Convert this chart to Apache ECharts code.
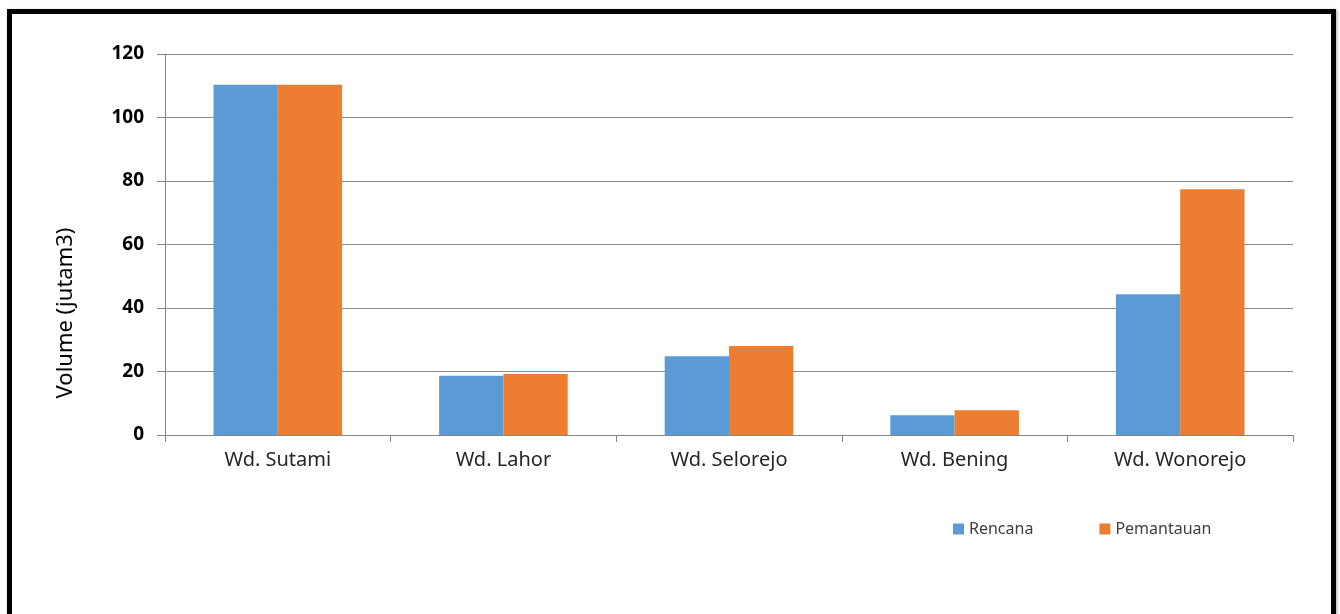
<!DOCTYPE html>
<html>
<head>
<meta charset="utf-8">
<script src="https://cdn.jsdelivr.net/npm/echarts@6/dist/echarts.min.js"></script>
<style>
html,body{margin:0;padding:0;background:#fff;}
#wrap{position:relative;width:1340px;height:614px;overflow:hidden;}
#chart{position:absolute;left:0;top:0;width:1340px;height:614px;}
#frame{position:absolute;left:7px;top:9px;width:1319px;height:640px;border:5.5px solid #000;box-shadow:1px 1px 3px rgba(0,0,0,0.35);pointer-events:none;}
</style>
</head>
<body>
<div id="wrap"><div id="chart"></div><div id="frame"></div></div>
<script>
const categories = ['Wd. Sutami', 'Wd. Lahor', 'Wd. Selorejo', 'Wd. Bening', 'Wd. Wonorejo'];
const rencana = [110.3, 18.7, 24.8, 6.2, 44.3];
const pemantauan = [110.3, 19.2, 28.0, 7.8, 77.4];
const seriesNames = ['Rencana', 'Pemantauan'];
const yAxisTitle = 'Volume (jutam3)';

const chart = echarts.init(document.getElementById('chart'), null, {renderer: 'canvas'});
chart.setOption({
  backgroundColor: '#ffffff',
  animation: false,
  grid: {left: 165, right: 47, top: 54, bottom: 179},
  legend: {
    data: seriesNames,
    left: 948, top: 516,
    itemWidth: 11, itemHeight: 11, itemGap: 66,
    icon: 'rect',
    textStyle: {fontFamily: 'Noto Sans', fontSize: 16, color: '#404040'}
  },
  graphic: [{
    type: 'text',
    x: 55, y: 313,
    rotation: Math.PI / 2,
    style: {text: yAxisTitle, fontFamily: 'Noto Sans', fontSize: 22, fill: '#000', align: 'center', verticalAlign: 'top'}
  }],
  xAxis: {
    type: 'category',
    data: categories,
    axisLine: {lineStyle: {color: '#868686', width: 1}},
    axisTick: {show: true, length: 7, lineStyle: {color: '#868686'}},
    axisLabel: {fontFamily: 'Noto Sans', fontSize: 20, color: '#262626', margin: 15}
  },
  yAxis: {
    type: 'value',
    min: 0, max: 120, interval: 20,
    axisLine: {show: true, lineStyle: {color: '#868686', width: 1}},
    axisTick: {show: true, length: 8, lineStyle: {color: '#868686'}},
    axisLabel: {fontFamily: 'Noto Sans', fontWeight: 'bold', fontSize: 19, color: '#000', margin: 21},
    splitLine: {lineStyle: {color: '#8a8a8a', width: 1}}
  },
  series: [
    {name: seriesNames[0], type: 'bar', data: rencana, barGap: '0%', barCategoryGap: '43%',
     itemStyle: {color: '#5B9BD5'}},
    {name: seriesNames[1], type: 'bar', data: pemantauan, barGap: '0%', barCategoryGap: '43%',
     itemStyle: {color: '#ED7D31'}}
  ]
});
</script>
</body>
</html>
